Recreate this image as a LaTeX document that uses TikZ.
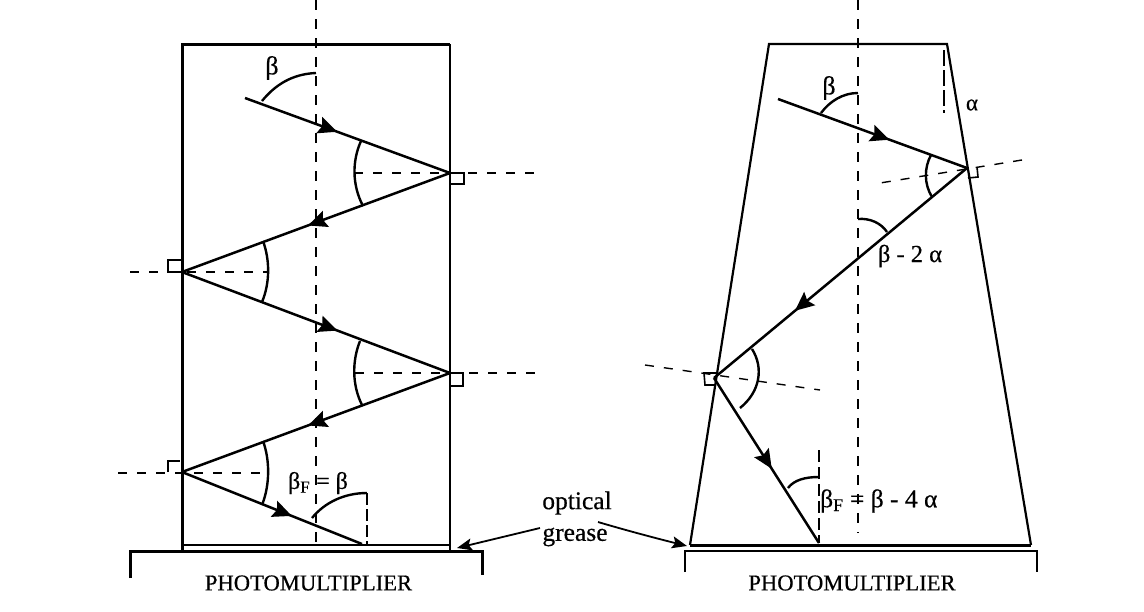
\documentclass[tikz,border=0pt]{standalone}
\usepackage{fontspec}
\setmainfont[FakeBold=0.5]{Liberation Serif}
\usetikzlibrary{arrows.meta,decorations.markings}
\tikzset{
  wall/.style={line width=3pt},
  thinwall/.style={line width=2.2pt},
  ray/.style={line width=2.5pt},
  anglearc/.style={line width=2.4pt},
  axisline/.style={line width=2.4pt,dash pattern=on 10pt off 9pt},
  normalline/.style={line width=2.2pt,dash pattern=on 9pt off 10pt},
  corner/.style={line width=1.6pt},
  midtip/.style={decoration={markings,mark=at position #1 with {\arrow{Stealth[length=19pt,width=17pt,inset=3pt]}}},postaction=decorate},
  lab/.style={inner sep=0pt,font=\fontsize{#1}{#1}\selectfont},
  pointer/.style={line width=1.8pt,-{Stealth[length=15pt,width=12pt,inset=3pt]}}
}
\begin{document}
\begin{tikzpicture}[x=1pt,y=-1pt]
\useasboundingbox (0,0) rectangle (1144,611);
% ---- left counter
\coordinate (LTL) at (182,44); \coordinate (LTR) at (450,44);
\coordinate (LBL) at (182,551); \coordinate (LBR) at (450,551);
\draw[wall] (LBL) -- (LTL) -- (LTR);
\draw[thinwall] (LTR) -- (LBR);
\draw[thinwall] (182,545) -- (450,545);
\draw[wall] (130,578) -- (130,551) -- (482,551) -- (482,575);
\node[lab=22.6] (pmL) at (308.5,583) {PHOTOMULTIPLIER};
\coordinate (Lc1) at (316,0); \coordinate (Lc2) at (316,545);
\draw[axisline] (Lc1) -- (Lc2);
% left ray vertices
\coordinate (A0) at (245,98); \coordinate (A1) at (450,173); \coordinate (A2) at (182,272);
\coordinate (A3) at (450,373); \coordinate (A4) at (182,472); \coordinate (A5) at (362,544);
% left normals
\coordinate (N1a) at (354,173); \coordinate (N1b) at (535,173);
\coordinate (N2a) at (130,272); \coordinate (N2b) at (268,272);
\coordinate (N3a) at (355,373); \coordinate (N3b) at (535,373);
\coordinate (N4a) at (118,473); \coordinate (N4b) at (268,473);
\draw[normalline] (N1a) -- (N1b);
\draw[normalline] (N2a) -- (N2b);
\draw[normalline] (N3a) -- (N3b);
\draw[normalline] (N4a) -- (N4b);
\draw[ray,midtip=0.45] (A0) -- (A1);
\draw[ray,midtip=0.53] (A1) -- (A2);
\draw[ray,midtip=0.58] (A2) -- (A3);
\draw[ray,midtip=0.53] (A3) -- (A4);
\draw[ray,midtip=0.61] (A4) -- (A5);
% left angle arcs
\draw[anglearc] (361,141) .. controls (352,161) and (352,185) .. (363,206);
\draw[anglearc] (263,241) .. controls (270,260) and (270,283) .. (262,302);
\draw[anglearc] (360,341) .. controls (352,361) and (352,385) .. (362,405);
\draw[anglearc] (263,441) .. controls (270,460) and (270,485) .. (262,505);
\draw[anglearc] (262,101) .. controls (275,85) and (292,74) .. (316,73);
\draw[anglearc] (312,518) .. controls (325,502) and (345,493) .. (367,493);
\draw[line width=1.8pt,dash pattern=on 12pt off 4pt] (367,493) -- (367,545);
% left corners
\draw[corner] (450,173) -- (464,173) -- (464,184) -- (450,184);
\draw[corner] (182,260) -- (168,260) -- (168,272) -- (182,272);
\draw[corner] (450,373) -- (463,373) -- (463,386) -- (450,386);
\draw[corner] (168,472) -- (168,461) -- (180,461);
% left labels
\node[lab=26] (bL) at (272,68) {β};
\node[lab=24] (bfL) at (318,483) {β\textsubscript{F} = β};
% ---- right counter
\coordinate (RTL) at (769,44); \coordinate (RTR) at (947,44);
\coordinate (RBL) at (690,545); \coordinate (RBR) at (1031,545);
\draw[thinwall] (RBL) -- (RTL) -- (RTR) -- (RBR);
\draw[line width=3pt] (RBL) -- (RBR);
\draw[thinwall] (685,572) -- (685,551) -- (1037,551) -- (1037,572);
\node[lab=22.6] (pmR) at (852,583) {PHOTOMULTIPLIER};
\coordinate (Rc1) at (858,0); \coordinate (Rc2) at (858,533);
\draw[axisline,line width=2pt] (Rc1) -- (Rc2);
\coordinate (Ra1) at (944,50); \coordinate (Ra2) at (944,113);
\draw[line width=1.8pt,dash pattern=on 16pt off 4pt] (Ra1) -- (Ra2);
\coordinate (B0) at (778,99); \coordinate (B1) at (967,168);
\coordinate (B2) at (714,378); \coordinate (B3) at (819,543);
\coordinate (M1a) at (1022,160); \coordinate (M1b) at (880,183);
\coordinate (M2a) at (645,365); \coordinate (M2b) at (820,390);
\draw[normalline,line width=1.4pt] (M1a) -- (M1b);
\draw[normalline,line width=1.4pt] (M2a) -- (M2b);
\draw[ray,midtip=0.59] (B0) -- (B1);
\draw[ray,midtip=0.68] (B1) -- (B2);
\draw[ray,midtip=0.55] (B2) -- (B3);
\draw[anglearc] (931,155) .. controls (924,168) and (924,184) .. (932,197);
\draw[anglearc] (821,113) .. controls (830,101) and (843,93) .. (858,93);
\draw[anglearc] (858,219) .. controls (870,218) and (881,223) .. (887,232);
\draw[anglearc] (752,349) .. controls (764,368) and (760,392) .. (740,408);
\draw[anglearc] (788,488) .. controls (794,480) and (805,477) .. (819,477);
\draw[line width=2pt,dash pattern=on 12pt off 5pt] (819,450) -- (B3);
\draw[corner] (968,178) -- (978,177) -- (977,167);
\draw[corner] (715,385) -- (705,385) -- (704,373) -- (717,373);
\node[lab=26] (bR) at (829,88) {β};
\node[lab=23] (aR) at (972,105) {α};
\node[lab=24.5] (b2) at (910,256) {β - 2 α};
\node[lab=25.5,anchor=west] (b4) at (820,501) {β\textsubscript{F} = β - 4 α};
% ---- optical grease
\node[lab=25.5] (og1) at (577,503) {optical};
\node[lab=25.5] (og2) at (575,537) {grease};
\coordinate (P1) at (540,528); \coordinate (P1t) at (457,548);
\coordinate (P2) at (598,522); \coordinate (P2t) at (687,546);
\draw[pointer] (P1) -- (P1t);
\draw[pointer] (P2) .. controls (625,530) and (655,538) .. (P2t);
\end{tikzpicture}
\end{document}
